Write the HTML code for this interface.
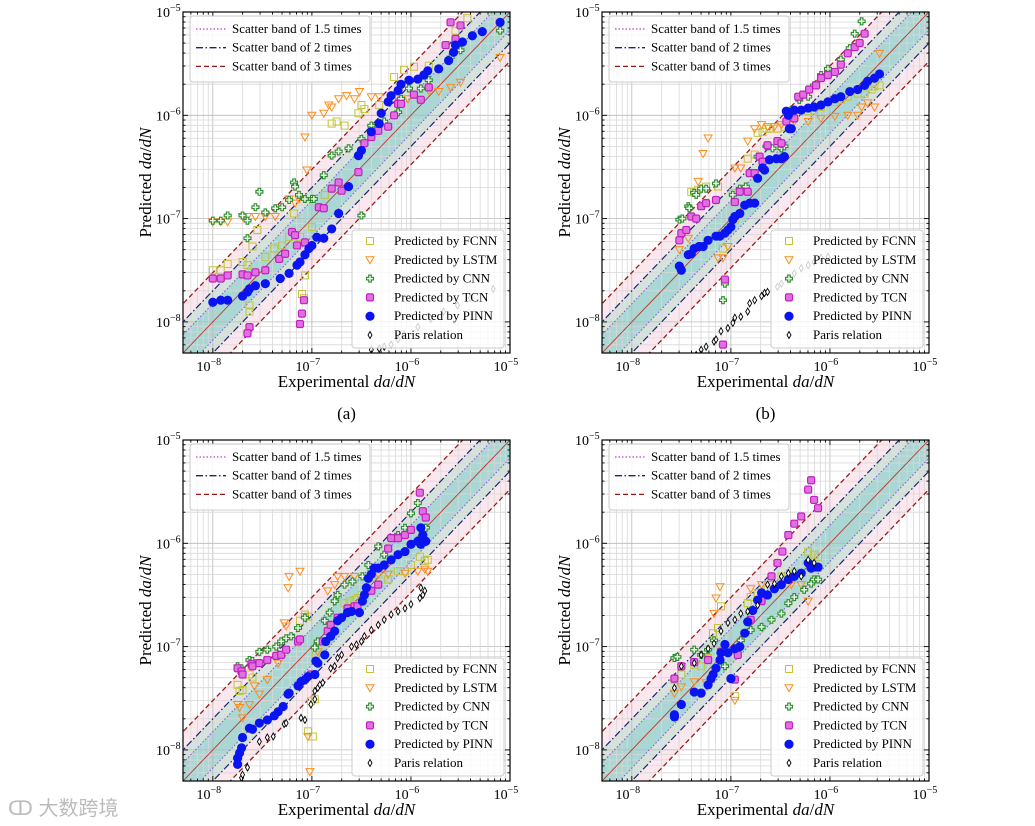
<!DOCTYPE html>
<html><head><meta charset="utf-8">
<style>
html,body{margin:0;padding:0;background:#fff;width:1035px;height:826px;overflow:hidden;}
svg{display:block;font-family:"Liberation Serif","Noto Serif CJK SC",serif;}
</style></head>
<body>
<svg id="chart" width="1035" height="826" viewBox="0 0 1035 826" xmlns="http://www.w3.org/2000/svg">
<text x="8" y="815" font-family="'Liberation Sans','Noto Sans CJK SC',sans-serif" font-size="20" fill="#bbb">ↀ 大数跨境</text>
</svg>
<script>
// axis tick exponents
const tickExps = [-8, -7, -6, -5];
const axisMin = Math.log10(5e-9), axisMax = -5;
// band factors
const bandFactors = [1.5, 2, 3];
const seriesNames = ["Predicted by FCNN","Predicted by LSTM","Predicted by CNN","Predicted by TCN","Predicted by PINN","Paris relation"];
const panelLabels = ["(a)","(b)","(c)","(d)"];

// data: [log10 experimental, log10 predicted]
const a_FCNN=[[-8,-7.5],[-7.92,-7.5],[-7.85,-7.44],[-7.7,-7.42],[-7.65,-7.45],[-7.63,-7.9],[-7.63,-7.84],[-7.6,-7.27],[-7.55,-7.11],[-7.47,-7.37],[-7.38,-7.29],[-7.3,-7.26],[-7.23,-7.18],[-7.18,-6.95],[-7.12,-7.18],[-7.1,-7.73],[-7.08,-7.77],[-7.07,-7.55],[-7,-7.08],[-6.87,-6.77],[-6.8,-6.08],[-6.75,-6.06],[-6.67,-6.1],[-6.53,-5.98],[-6.5,-5.9],[-6.47,-5.94],[-6.32,-5.9],[-6.17,-5.63],[-6.07,-5.56],[-5.97,-5.53],[-5.82,-5.52],[-5.6,-5.32],[-5.55,-5.18],[-5.43,-5.06]];
const a_LSTM=[[-8,-7.03],[-7.92,-7.03],[-7.85,-7.03],[-7.7,-6.98],[-7.65,-6.98],[-7.57,-6.98],[-7.47,-6.98],[-7.37,-6.98],[-7.23,-6.81],[-7.17,-6.85],[-7.13,-6.81],[-7.07,-6.21],[-7.05,-6.53],[-7,-6],[-6.88,-5.98],[-6.83,-5.9],[-6.8,-5.92],[-6.73,-5.84],[-6.65,-5.81],[-6.57,-5.84],[-6.52,-5.77],[-6.4,-5.82],[-6.32,-5.82],[-6.13,-5.84],[-6.03,-5.84],[-5.82,-5.76],[-5.72,-5.77],[-5.6,-5.73],[-5.5,-5.68],[-5.1,-5.44]];
const a_CNN=[[-8,-7.02],[-7.92,-7.02],[-7.85,-6.97],[-7.7,-6.97],[-7.65,-7.02],[-7.65,-7.19],[-7.53,-6.74],[-7.57,-6.89],[-7.47,-6.94],[-7.37,-6.9],[-7.3,-6.89],[-7.23,-6.82],[-7.18,-6.65],[-7.17,-6.69],[-7.13,-6.77],[-7.07,-6.81],[-7,-6.81],[-6.98,-6.81],[-6.88,-6.58],[-6.8,-6.39],[-6.73,-6.35],[-6.63,-6.32],[-6.5,-6.23],[-6.5,-6.97],[-6.4,-6.1],[-6.27,-6.06],[-6.13,-5.97],[-6.1,-5.84],[-6.02,-5.74],[-5.9,-5.74],[-5.82,-5.66],[-5.6,-5.44],[-5.55,-5.29],[-5.5,-5.37],[-5.1,-5.18]];
const a_TCN=[[-8,-7.58],[-7.92,-7.58],[-7.85,-7.55],[-7.7,-7.54],[-7.65,-7.55],[-7.63,-8.05],[-7.65,-8.11],[-7.57,-7.52],[-7.47,-7.5],[-7.33,-7.39],[-7.27,-7.34],[-7.2,-7.13],[-7.17,-7.16],[-7.15,-7.26],[-7.12,-8.02],[-7.1,-7.92],[-7.08,-7.79],[-7.07,-7.23],[-6.93,-6.89],[-6.88,-6.9],[-6.8,-6.71],[-6.73,-6.65],[-6.7,-6.73],[-6.53,-6.55],[-6.47,-6.27],[-6.4,-6.21],[-6.33,-6.15],[-6.23,-6.11],[-6.17,-6],[-6.13,-5.89],[-6.1,-5.89],[-5.97,-5.8],[-5.9,-5.85],[-5.82,-5.73],[-5.65,-5.32],[-5.6,-5.1],[-5.55,-5.26],[-5.5,-5.13]];
const a_PINN=[[-8,-7.81],[-7.92,-7.79],[-7.85,-7.79],[-7.7,-7.75],[-7.65,-7.71],[-7.63,-7.68],[-7.57,-7.65],[-7.47,-7.63],[-7.32,-7.58],[-7.23,-7.53],[-7.15,-7.45],[-7.12,-7.42],[-7.07,-7.35],[-7.03,-7.29],[-7,-7.26],[-6.95,-7.18],[-6.88,-7.19],[-6.8,-7.1],[-6.73,-6.95],[-6.63,-6.69],[-6.53,-6.39],[-6.5,-6.34],[-6.4,-6.16],[-6.32,-6.08],[-6.3,-5.98],[-6.23,-5.87],[-6.2,-5.81],[-6.13,-5.76],[-6.1,-5.7],[-6.02,-5.66],[-5.93,-5.65],[-5.87,-5.61],[-5.83,-5.57],[-5.72,-5.55],[-5.62,-5.47],[-5.57,-5.39],[-5.55,-5.32],[-5.48,-5.29],[-5.38,-5.23],[-5.28,-5.19],[-5.1,-5.1]];
const a_Paris=[[-6.4,-8.27],[-6.32,-8.26],[-6.27,-8.24],[-6.2,-8.22],[-6.13,-8.17],[-6.07,-8.12],[-5.93,-8.05],[-5.8,-7.97],[-5.67,-7.9],[-5.53,-7.84],[-5.4,-7.77],[-5.17,-7.68]];

const b_FCNN=[[-7.4,-6.74],[-7.37,-6.75],[-7.33,-6.72],[-7.25,-6.69],[-7.13,-6.69],[-6.98,-6.75],[-6.96,-7.01],[-7.08,-7.29],[-6.83,-6.42],[-6.76,-6.38],[-6.73,-6.17],[-6.68,-6.16],[-6.64,-6.13],[-6.61,-6.13],[-6.53,-6.13],[-6.46,-6.11],[-6.36,-6.01],[-6.22,-5.96],[-6.16,-5.95],[-6.09,-5.92],[-5.95,-5.87],[-5.89,-5.85],[-5.82,-5.82],[-5.72,-5.79],[-5.65,-5.79],[-5.58,-5.75],[-5.55,-5.72],[-5.5,-5.71]];
const b_LSTM=[[-7.52,-7.3],[-7.43,-7.19],[-7.33,-6.64],[-7.28,-6.37],[-7.23,-6.22],[-7.13,-7.38],[-7.08,-7.38],[-7.03,-7.27],[-6.96,-6.51],[-6.9,-6.51],[-6.83,-6.25],[-6.76,-6.13],[-6.69,-6.09],[-6.63,-6.11],[-6.56,-6.11],[-6.49,-6.09],[-6.36,-6.06],[-6.22,-6.06],[-6.09,-6.03],[-5.95,-6.01],[-5.82,-6],[-5.72,-6],[-5.68,-5.92],[-5.62,-5.88],[-5.55,-5.92],[-5.5,-5.4]];
const b_CNN=[[-7.52,-7.01],[-7.49,-7],[-7.43,-6.88],[-7.42,-6.9],[-7.37,-6.75],[-7.35,-6.77],[-7.3,-6.71],[-7.25,-6.71],[-7.15,-6.66],[-7.08,-7.79],[-7.06,-7.63],[-6.98,-6.77],[-6.91,-6.71],[-6.85,-6.69],[-6.73,-6.4],[-6.64,-6.3],[-6.58,-6.32],[-6.49,-6.32],[-6.46,-6.3],[-6.39,-5.95],[-6.31,-5.85],[-6.22,-5.82],[-6.16,-5.71],[-6.09,-5.61],[-6.02,-5.55],[-5.89,-5.46],[-5.8,-5.35],[-5.75,-5.21],[-5.68,-5.09]];
const b_TCN=[[-7.52,-7.21],[-7.5,-7.14],[-7.45,-7.11],[-7.4,-6.98],[-7.35,-7],[-7.3,-6.88],[-7.25,-6.85],[-7.15,-6.82],[-7.08,-8.22],[-7.06,-7.59],[-6.96,-6.84],[-6.91,-6.74],[-6.83,-6.74],[-6.81,-6.56],[-6.76,-6.56],[-6.71,-6.4],[-6.68,-6.45],[-6.63,-6.29],[-6.53,-6.25],[-6.49,-6.27],[-6.44,-6.06],[-6.36,-6.03],[-6.32,-5.82],[-6.27,-5.8],[-6.21,-5.75],[-6.14,-5.71],[-6.09,-5.64],[-6.02,-5.61],[-5.95,-5.58],[-5.89,-5.51],[-5.82,-5.4],[-5.75,-5.34],[-5.7,-5.3],[-5.65,-5.21]];
const b_PINN=[[-7.52,-7.46],[-7.5,-7.5],[-7.43,-7.35],[-7.4,-7.34],[-7.37,-7.29],[-7.32,-7.27],[-7.28,-7.27],[-7.23,-7.21],[-7.15,-7.17],[-7.11,-7.17],[-7.06,-7.14],[-7.03,-7.11],[-7,-7.08],[-6.98,-7.01],[-6.96,-6.98],[-6.91,-6.95],[-6.86,-6.87],[-6.81,-6.85],[-6.76,-6.85],[-6.73,-6.61],[-6.68,-6.51],[-6.66,-6.53],[-6.61,-6.43],[-6.54,-6.42],[-6.49,-6.42],[-6.46,-6.4],[-6.44,-5.96],[-6.42,-6],[-6.41,-6.13],[-6.39,-6.13],[-6.36,-5.95],[-6.29,-5.95],[-6.22,-5.93],[-6.16,-5.92],[-6.09,-5.9],[-6.02,-5.87],[-5.95,-5.84],[-5.89,-5.82],[-5.8,-5.77],[-5.72,-5.75],[-5.65,-5.71],[-5.62,-5.67],[-5.55,-5.64],[-5.5,-5.6]];
const b_Paris=[[-7.35,-8.32],[-7.3,-8.27],[-7.25,-8.24],[-7.17,-8.19],[-7.15,-8.17],[-7.1,-8.09],[-7.03,-8.06],[-6.98,-8.01],[-6.96,-7.96],[-6.9,-7.95],[-6.83,-7.9],[-6.81,-7.82],[-6.76,-7.79],[-6.69,-7.75],[-6.66,-7.72],[-6.63,-7.71],[-6.53,-7.66],[-6.49,-7.63],[-6.42,-7.58],[-6.36,-7.53],[-6.29,-7.48],[-6.22,-7.45],[-6.16,-7.42],[-6.09,-7.38],[-6.02,-7.37]];

const c_FCNN=[[-7.75,-7.37],[-7.73,-7.43],[-7.7,-7.42],[-7.63,-7.27],[-7.6,-7.3],[-7.12,-6.75],[-7.07,-6.69],[-7.04,-6.71],[-6.67,-6.58],[-6.62,-6.56],[-6.57,-6.55],[-6.54,-6.53],[-6.5,-6.5],[-6.4,-6.4],[-6.33,-6.3],[-6.23,-6.35],[-6.13,-6.27],[-6.06,-6.27],[-6,-6.21],[-5.91,-6.13],[-5.86,-6.17],[-5.83,-6.16],[-7.04,-7.82],[-6.99,-7.87],[-7.01,-7.53],[-6.97,-7.51],[-6.96,-7.08]];
const c_LSTM=[[-7.75,-7.56],[-7.73,-7.59],[-7.7,-7.69],[-7.63,-7.56],[-7.58,-7.38],[-7.53,-7.46],[-7.45,-7.32],[-7.34,-7.16],[-7.28,-6.77],[-7.24,-6.43],[-7.23,-6.32],[-7.12,-6.27],[-7.26,-6.8],[-7.07,-6.71],[-7.02,-8.21],[-7.04,-7.87],[-6.94,-7.05],[-6.84,-6.46],[-6.77,-6.4],[-6.74,-6.32],[-6.67,-6.32],[-6.57,-6.32],[-6.43,-6.34],[-6.33,-6.3],[-6.23,-6.3],[-6.06,-6.29],[-5.93,-6.27],[-5.86,-6.25],[-5.83,-6.27]];
const c_CNN=[[-7.75,-7.19],[-7.71,-7.21],[-7.63,-7.13],[-7.6,-7.14],[-7.53,-7.05],[-7.45,-7.03],[-7.36,-7],[-7.31,-6.95],[-7.26,-6.92],[-7.21,-6.9],[-7.14,-6.82],[-7.07,-6.72],[-6.97,-7.01],[-6.94,-6.95],[-6.87,-6.75],[-6.82,-6.67],[-6.77,-6.56],[-6.74,-6.5],[-6.67,-6.4],[-6.59,-6.37],[-6.49,-6.32],[-6.43,-6.21],[-6.33,-6.03],[-6.27,-6.11],[-6.2,-5.95],[-6.13,-5.92],[-6.06,-5.85],[-6,-5.71],[-5.93,-5.61],[-5.85,-5.85]];
const c_TCN=[[-7.75,-7.21],[-7.71,-7.24],[-7.7,-7.27],[-7.61,-7.17],[-7.6,-7.19],[-7.53,-7.16],[-7.45,-7.13],[-7.36,-7.09],[-7.31,-7.08],[-7.26,-7.03],[-7.14,-6.95],[-7.12,-6.93],[-7.01,-7.27],[-6.89,-6.95],[-6.84,-6.85],[-6.81,-6.79],[-6.74,-6.72],[-6.64,-6.63],[-6.57,-6.61],[-6.54,-6.61],[-6.43,-6.45],[-6.4,-6.46],[-6.33,-6.4],[-6.23,-6.05],[-6.2,-5.95],[-6.13,-5.95],[-6.06,-5.92],[-6,-5.87],[-5.91,-5.51],[-5.88,-5.69],[-5.85,-5.75]];
const c_PINN=[[-7.75,-8.14],[-7.75,-8.08],[-7.73,-8.03],[-7.71,-7.98],[-7.7,-7.88],[-7.63,-7.79],[-7.6,-7.8],[-7.53,-7.74],[-7.45,-7.71],[-7.38,-7.67],[-7.34,-7.63],[-7.29,-7.58],[-7.24,-7.46],[-7.23,-7.45],[-7.14,-7.38],[-7.11,-7.34],[-7.07,-7.32],[-7.04,-7.29],[-6.97,-7.27],[-6.96,-7.14],[-6.94,-7.16],[-6.87,-7.08],[-6.86,-6.95],[-6.81,-6.9],[-6.77,-6.85],[-6.74,-6.75],[-6.7,-6.72],[-6.64,-6.67],[-6.6,-6.66],[-6.52,-6.67],[-6.49,-6.56],[-6.47,-6.5],[-6.45,-6.43],[-6.43,-6.34],[-6.4,-6.3],[-6.37,-6.24],[-6.33,-6.24],[-6.27,-6.21],[-6.2,-6.16],[-6.13,-6.11],[-6.06,-6.08],[-6,-6.01],[-5.93,-5.98],[-5.9,-5.85],[-5.88,-5.92],[-5.85,-5.98],[-5.9,-6.01]];
const c_Paris=[[-7.71,-8.27],[-7.7,-8.24],[-7.65,-8.17],[-7.53,-7.92],[-7.45,-7.88],[-7.39,-7.87],[-7.28,-7.75],[-7.26,-7.74],[-7.11,-7.69],[-7.07,-7.71],[-7.01,-7.56],[-6.97,-7.51],[-6.97,-7.43],[-6.94,-7.4],[-6.92,-7.37],[-6.89,-7.35],[-6.81,-7.21],[-6.77,-7.19],[-6.74,-7.11],[-6.7,-7.08],[-6.6,-7],[-6.55,-6.98],[-6.5,-6.95],[-6.47,-6.9],[-6.4,-6.84],[-6.33,-6.79],[-6.27,-6.74],[-6.2,-6.69],[-6.13,-6.66],[-6.06,-6.63],[-6,-6.59],[-5.91,-6.53],[-5.88,-6.5],[-5.86,-6.46],[-5.9,-6.43]];

const d_FCNN=[[-7.57,-7.32],[-7.5,-7.27],[-7.37,-7.18],[-7.3,-7.19],[-7.23,-7.11],[-7.18,-6.87],[-7.13,-6.82],[-7.1,-6.61],[-6.83,-6.58],[-6.8,-6.52],[-6.73,-6.48],[-6.63,-6.45],[-6.49,-6.32],[-6.36,-6.29],[-6.22,-6.08],[-6.16,-6.11],[-6.12,-6.13],[-6.96,-7.48]];
const d_LSTM=[[-7.57,-7.45],[-7.5,-7.39],[-7.37,-7.34],[-7.25,-7.35],[-7.17,-6.68],[-7.15,-6.53],[-7.11,-6.42],[-6.96,-7.52],[-6.8,-6.44],[-6.69,-6.4],[-6.59,-6.4],[-6.49,-6.4],[-6.39,-6.4],[-6.29,-6.4],[-6.22,-6.56],[-6.19,-6.24],[-6.16,-6.23]];
const d_CNN=[[-7.57,-7.11],[-7.54,-7.1],[-7.37,-7.03],[-7.3,-7.08],[-7.23,-7.03],[-7.17,-6.94],[-7.06,-7.19],[-6.96,-7.03],[-6.9,-6.94],[-6.8,-6.84],[-6.69,-6.81],[-6.59,-6.74],[-6.49,-6.68],[-6.42,-6.58],[-6.36,-6.52],[-6.26,-6.45],[-6.19,-6.39],[-6.16,-6.35],[-6.12,-6.35]];
const d_TCN=[[-7.57,-7.31],[-7.5,-7.19],[-7.37,-7.15],[-7.23,-7.13],[-7.1,-7.05],[-6.96,-7.32],[-6.93,-7.08],[-6.8,-6.74],[-6.69,-6.56],[-6.59,-6.32],[-6.53,-6.19],[-6.48,-6.08],[-6.42,-5.92],[-6.36,-5.81],[-6.29,-5.74],[-6.22,-5.48],[-6.19,-5.39],[-6.16,-5.58],[-6.12,-5.66]];
const d_PINN=[[-7.57,-7.66],[-7.57,-7.68],[-7.5,-7.56],[-7.37,-7.44],[-7.3,-7.45],[-7.23,-7.37],[-7.2,-7.31],[-7.18,-7.27],[-7.15,-7.21],[-7.11,-7.13],[-7.1,-7.06],[-7.06,-6.98],[-7.03,-7.06],[-7,-7.31],[-6.96,-7.02],[-6.91,-7.0],[-6.86,-6.87],[-6.83,-6.76],[-6.78,-6.65],[-6.73,-6.55],[-6.69,-6.48],[-6.63,-6.5],[-6.56,-6.44],[-6.49,-6.4],[-6.42,-6.35],[-6.36,-6.32],[-6.29,-6.29],[-6.22,-6.19],[-6.19,-6.24],[-6.16,-6.23],[-6.12,-6.23]];
const d_Paris=[[-7.57,-7.4],[-7.5,-7.19],[-7.37,-7.16],[-7.3,-7.08],[-7.23,-7.02],[-7.17,-6.97],[-7.1,-6.85],[-7.03,-6.77],[-6.96,-6.74],[-6.9,-6.68],[-6.83,-6.66],[-6.73,-6.6],[-6.63,-6.4],[-6.56,-6.39],[-6.49,-6.32],[-6.42,-6.29],[-6.36,-6.27],[-6.29,-6.32],[-6.22,-6.16],[-6.16,-6.19]];

const panelData = [
  [a_FCNN,a_LSTM,a_CNN,a_TCN,a_PINN,a_Paris],
  [b_FCNN,b_LSTM,b_CNN,b_TCN,b_PINN,b_Paris],
  [c_FCNN,c_LSTM,c_CNN,c_TCN,c_PINN,c_Paris],
  [d_FCNN,d_LSTM,d_CNN,d_TCN,d_PINN,d_Paris]
];

const NS="http://www.w3.org/2000/svg";
const svg=document.getElementById('chart');
function mk(tag,attrs,parent){const e=document.createElementNS(NS,tag);for(const k in attrs)e.setAttribute(k,attrs[k]);(parent||svg).appendChild(e);return e;}

const panels=[{l:183,t:12},{l:602,t:12},{l:183,t:440},{l:602,t:440}];
const W=327,H=341;

function marker(g,type,x,y){
  let e;
  if(type===0){e=mk('rect',{x:x-3.5,y:y-3.5,width:7,height:7,fill:'none',stroke:'#c4c43a','stroke-width':1},g);}
  else if(type===1){e=mk('path',{d:`M${x-4},${y-3}L${x+4},${y-3}L${x},${y+4}Z`,fill:'none',stroke:'#ff8c1a','stroke-width':1},g);}
  else if(type===2){e=mk('path',{d:`M${x-1.3},${y-3.5}h2.6v2.2h2.2v2.6h-2.2v2.2h-2.6v-2.2h-2.2v-2.6h2.2Z`,fill:'#e8f5e8',stroke:'#2e8b2e','stroke-width':1.1},g);}
  else if(type===3){e=mk('rect',{x:x-3.5,y:y-3.5,width:7,height:7,rx:1.5,fill:'#e070e0',stroke:'#c020c0','stroke-width':1.2},g);}
  else if(type===4){e=mk('circle',{cx:x,cy:y,r:4.6,fill:'#0a14f0'},g);}
  else {e=mk('path',{d:`M${x},${y-3.5}L${x+2},${y}L${x},${y+3.5}L${x-2},${y}Z`,fill:'#fff',stroke:'#000','stroke-width':0.9},g);}
  return e;
}

panels.forEach((p,pi)=>{
  const sx=v=>p.l+(v-axisMin)/(axisMax-axisMin)*W;
  const sy=v=>p.t+H-(v-axisMin)/(axisMax-axisMin)*H;
  const g=mk('g',{});
  
  
  const cid='clip'+pi;
  const cp=mk('clipPath',{id:cid},g); mk('rect',{x:p.l,y:p.t,width:W,height:H},cp);
  const inner=mk('g',{'clip-path':`url(#${cid})`},g);
  const bandFill=['#aad6d4','#d5e3dc','#fbe8ee'];
  [2,1,0].forEach(i=>{
    const k=Math.log10(bandFactors[i]);
    const a=axisMin-1,b=axisMax+1;
    const band=mk('polygon',{points:`${sx(a)},${sy(a+k)} ${sx(b)},${sy(b+k)} ${sx(b)},${sy(b-k)} ${sx(a)},${sy(a-k)}`,fill:bandFill[i]},inner);
    
    
  });
  for(let e=-9;e<=-5;e++){for(let m=1;m<=9;m++){const v=e+Math.log10(m);if(v<axisMin||v>axisMax)continue;
    const c=m===1?'#b8b8b8':'#d8d8d8';
    mk('line',{x1:sx(v),x2:sx(v),y1:p.t,y2:p.t+H,stroke:c,'stroke-width':0.8},inner);
    mk('line',{x1:p.l,x2:p.l+W,y1:sy(v),y2:sy(v),stroke:c,'stroke-width':0.8},inner);
  }}
  const styles=[{s:'#7a5ad8',d:'1.5,2',w:1},{s:'#1c2470',d:'7,2.5,1.5,2.5',w:1.2},{s:'#9a1a1a',d:'5,3',w:1.3}];
  bandFactors.forEach((f,i)=>{const k=Math.log10(f);[k,-k].forEach(o=>{
    const ln=mk('line',{x1:sx(axisMin-1),y1:sy(axisMin-1+o),x2:sx(axisMax+1),y2:sy(axisMax+1+o),stroke:styles[i].s,'stroke-dasharray':styles[i].d,'stroke-width':styles[i].w},inner);
    
    
  });});
  const diag=mk('line',{x1:sx(axisMin-1),y1:sy(axisMin-1),x2:sx(axisMax+1),y2:sy(axisMax+1),stroke:'#c0392b','stroke-width':0.9},inner);
  
  
  panelData[pi].forEach((ser,si)=>{
    const sg=mk('g',{},inner);
    
    
    ser.forEach(pt=>{const m=marker(sg,si,sx(pt[0]),sy(pt[1]));
      
      });
  });
  mk('rect',{x:p.l,y:p.t,width:W,height:H,fill:'none',stroke:'#000','stroke-width':1.2},g);
  for(let e=-9;e<=-5;e++){for(let m=1;m<=9;m++){const v=e+Math.log10(m);if(v<axisMin-1e-9||v>axisMax+1e-9)continue;
    const L=m===1?5:2.5;
    mk('line',{x1:sx(v),x2:sx(v),y1:p.t+H,y2:p.t+H-L,stroke:'#000','stroke-width':0.9},g);
    mk('line',{x1:sx(v),x2:sx(v),y1:p.t,y2:p.t+L,stroke:'#000','stroke-width':0.9},g);
    mk('line',{x1:p.l,x2:p.l+L,y1:sy(v),y2:sy(v),stroke:'#000','stroke-width':0.9},g);
    mk('line',{x1:p.l+W,x2:p.l+W-L,y1:sy(v),y2:sy(v),stroke:'#000','stroke-width':0.9},g);
  }}
  tickExps.forEach(e=>{
    const tx=mk('text',{x:sx(e)-4,y:p.t+H+18,'font-size':14,'text-anchor':'middle'},g);
    
    
    tx.innerHTML=`10<tspan dy="-6" font-size="10">−${-e}</tspan>`;
    const ty=mk('text',{x:p.l-27,y:sy(e)+5,'font-size':14,'text-anchor':'start'},g);
    
    
    ty.innerHTML=`10<tspan dy="-6" font-size="10">−${-e}</tspan>`;
  });
  const xt=mk('text',{x:p.l+W/2,y:p.t+H+34,'font-size':17,'text-anchor':'middle'},g);
  
  
  xt.innerHTML='Experimental <tspan font-style="italic">da</tspan>/<tspan font-style="italic">dN</tspan>';
  const yt=mk('text',{x:0,y:0,'font-size':17,'text-anchor':'middle',transform:`translate(${p.l-32},${p.t+H/2}) rotate(-90)`},g);
  
  
  yt.innerHTML='Predicted <tspan font-style="italic">da</tspan>/<tspan font-style="italic">dN</tspan>';
  if(pi<2){const pl=mk('text',{x:p.l+W/2,y:p.t+H+66,'font-size':17,'text-anchor':'middle'},g);
    
    
    pl.textContent=panelLabels[pi];}
  const lg1=mk('g',{},g);
  
  
  mk('rect',{x:p.l+7,y:p.t+4,width:180,height:66,rx:3,fill:'#fff','fill-opacity':0.85,stroke:'#ccc'},lg1);
  const lnames=['Scatter band of 1.5 times','Scatter band of 2 times','Scatter band of 3 times'];
  const lstyle=[{s:'#c040d0',d:'1.5,2'},{s:'#1c2470',d:'7,2.5,1.5,2.5'},{s:'#9a1a1a',d:'5,3'}];
  lnames.forEach((n,i)=>{const y=p.t+21+i*18.7;
    const en=mk('g',{},lg1);
    
    
    mk('line',{x1:p.l+13,x2:p.l+43,y1:y-4,y2:y-4,stroke:lstyle[i].s,'stroke-dasharray':lstyle[i].d,'stroke-width':1.3},en);
    const t=mk('text',{x:p.l+49,y:y,'font-size':13},en);t.textContent=n;});
  const lg2=mk('g',{},g);
  
  
  mk('rect',{x:p.l+169,y:p.t+218,width:152,height:118,rx:3,fill:'#fff','fill-opacity':0.8,stroke:'#ccc'},lg2);
  seriesNames.forEach((n,i)=>{const y=p.t+233+i*18.8;
    const en=mk('g',{},lg2);
    
    
    marker(en,i,p.l+187,y-4);
    const t=mk('text',{x:p.l+211,y:y,'font-size':13},en);t.textContent=n;});
});
</script>
</body></html>
